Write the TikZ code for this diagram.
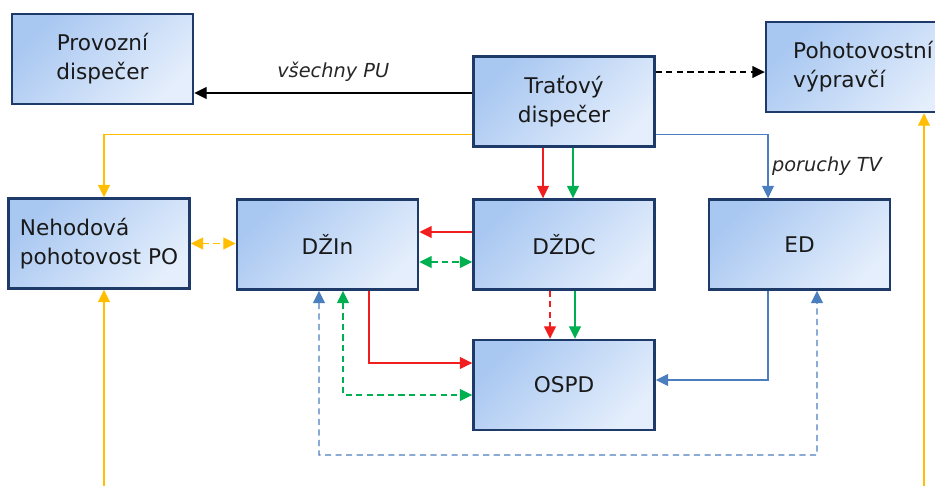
\documentclass[tikz,border=0pt]{standalone}
\usepackage{fontspec}
\setmainfont{DejaVu Sans}
\usepackage{tikz}
\usetikzlibrary{arrows.meta}

\definecolor{boxdark}{RGB}{168,199,241}
\definecolor{boxlight}{RGB}{228,238,252}
\definecolor{boxborder}{RGB}{30,58,104}
\definecolor{linered}{RGB}{240,30,30}
\definecolor{linegreen}{RGB}{0,176,80}
\definecolor{lineblue}{RGB}{74,126,190}
\definecolor{lineorange}{RGB}{255,190,0}

\begin{document}
\begin{tikzpicture}[
        x=0.02cm, y=-0.02cm,
        >={Triangle[length=2.5mm, width=2.4mm]},
        conn/.style={line width=0.8pt, ->},
        lbl/.style={font=\fontsize{11}{13}\itshape, text=black!85}
        ]
    % Define styles
    \tikzstyle{unit} = [draw=boxborder, line width=1.4pt, top color=boxdark, bottom color=boxlight, shading angle=45, minimum width=3.62cm, minimum height=1.8cm, font=\fontsize{12.3}{16.5}\selectfont, text=black!90, align=center]
    \tikzstyle{dashline} = [dash pattern=on 3.5pt off 2.5pt]

    \useasboundingbox (0,0) rectangle (935,486);

    % Define top nodes
    \node[unit] (PD) at (102.5, 59) {Provozní\\dispečer};
    \node[unit] (TD) at (564, 101.5) {Traťový\\dispečer};
    \node[unit, minimum width=3.88cm, align=left] (PV) at (863, 67) {Pohotovostní\\výpravčí};

    % Define middle nodes
    \node[unit, align=left] (NP) at (99, 243.5) {Nehodová\\pohotovost PO};
    \node[unit] (DZIn) at (327.5, 244.5) {DŽIn};
    \node[unit] (DZDC) at (564, 244.5) {DŽDC};
    \node[unit] (ED) at (799.5, 244.5) {ED};

    % Define bottom node
    \node[unit] (OSPD) at (564, 385) {OSPD};

    % Free ends and corners
    \coordinate (npin) at (104, 486);
    \coordinate (pvin) at (924, 486);
    \coordinate (bluelow) at (817, 455);

    % Draw edges from the track dispatcher
    \draw[conn] ([yshift=0.17cm]TD.west) -- ([yshift=0.17cm]TD.west -| PD.east)
        node[midway, above=0.1cm, lbl] (lblPU) {všechny PU};
    \draw[conn, dashline] ([yshift=0.59cm]TD.east) -- ([yshift=0.59cm]TD.east -| PV.west);
    \draw[conn, lineorange] ([yshift=0.26cm]TD.south west) -| ([xshift=0.1cm]NP.north);
    \draw[conn, lineblue] ([yshift=0.26cm]TD.south east) -| ([xshift=-0.63cm]ED.north)
        node[pos=0.75, right, xshift=-0.05cm, lbl] (lblTV) {poruchy TV};
    \draw[conn, linered] ([xshift=-0.42cm]TD.south) -- ([xshift=-0.42cm]DZDC.north);
    \draw[conn, linegreen] ([xshift=0.18cm]TD.south) -- ([xshift=0.18cm]DZDC.north);

    % Draw incoming edges from below
    \draw[conn, lineorange] (npin) -- (npin |- NP.south);
    \draw[conn, lineorange] (pvin) -- (pvin |- PV.south);

    % Draw edges between the middle nodes
    \draw[conn, <->, dashline, lineorange] (NP.east) -- (NP.east -| DZIn.west);
    \draw[conn, linered] ([yshift=0.25cm]DZDC.west) -- ([yshift=0.25cm]DZIn.east);
    \draw[conn, <->, dashline, linegreen] ([yshift=-0.35cm]DZIn.east) -- ([yshift=-0.35cm]DZDC.west);

    % Draw edges to OSPD
    \draw[conn, dashline, linered] ([xshift=-0.28cm]DZDC.south) -- ([xshift=-0.28cm]OSPD.north);
    \draw[conn, linegreen] ([xshift=0.22cm]DZDC.south) -- ([xshift=0.22cm]OSPD.north);
    \draw[conn, linered] ([xshift=0.83cm]DZIn.south) |- ([yshift=0.44cm]OSPD.west);
    \draw[conn, <->, dashline, linegreen] ([xshift=0.31cm]DZIn.south) |- ([yshift=-0.2cm]OSPD.west);
    \draw[conn, lineblue] ([xshift=-0.63cm]ED.south) |- ([yshift=0.1cm]OSPD.east);

    % Draw the long edge between DZIn and ED
    \draw[conn, <->, dashline, lineblue] ([xshift=-0.17cm]DZIn.south) |- (bluelow) -- ([xshift=0.35cm]ED.south);

\end{tikzpicture}
\end{document}
